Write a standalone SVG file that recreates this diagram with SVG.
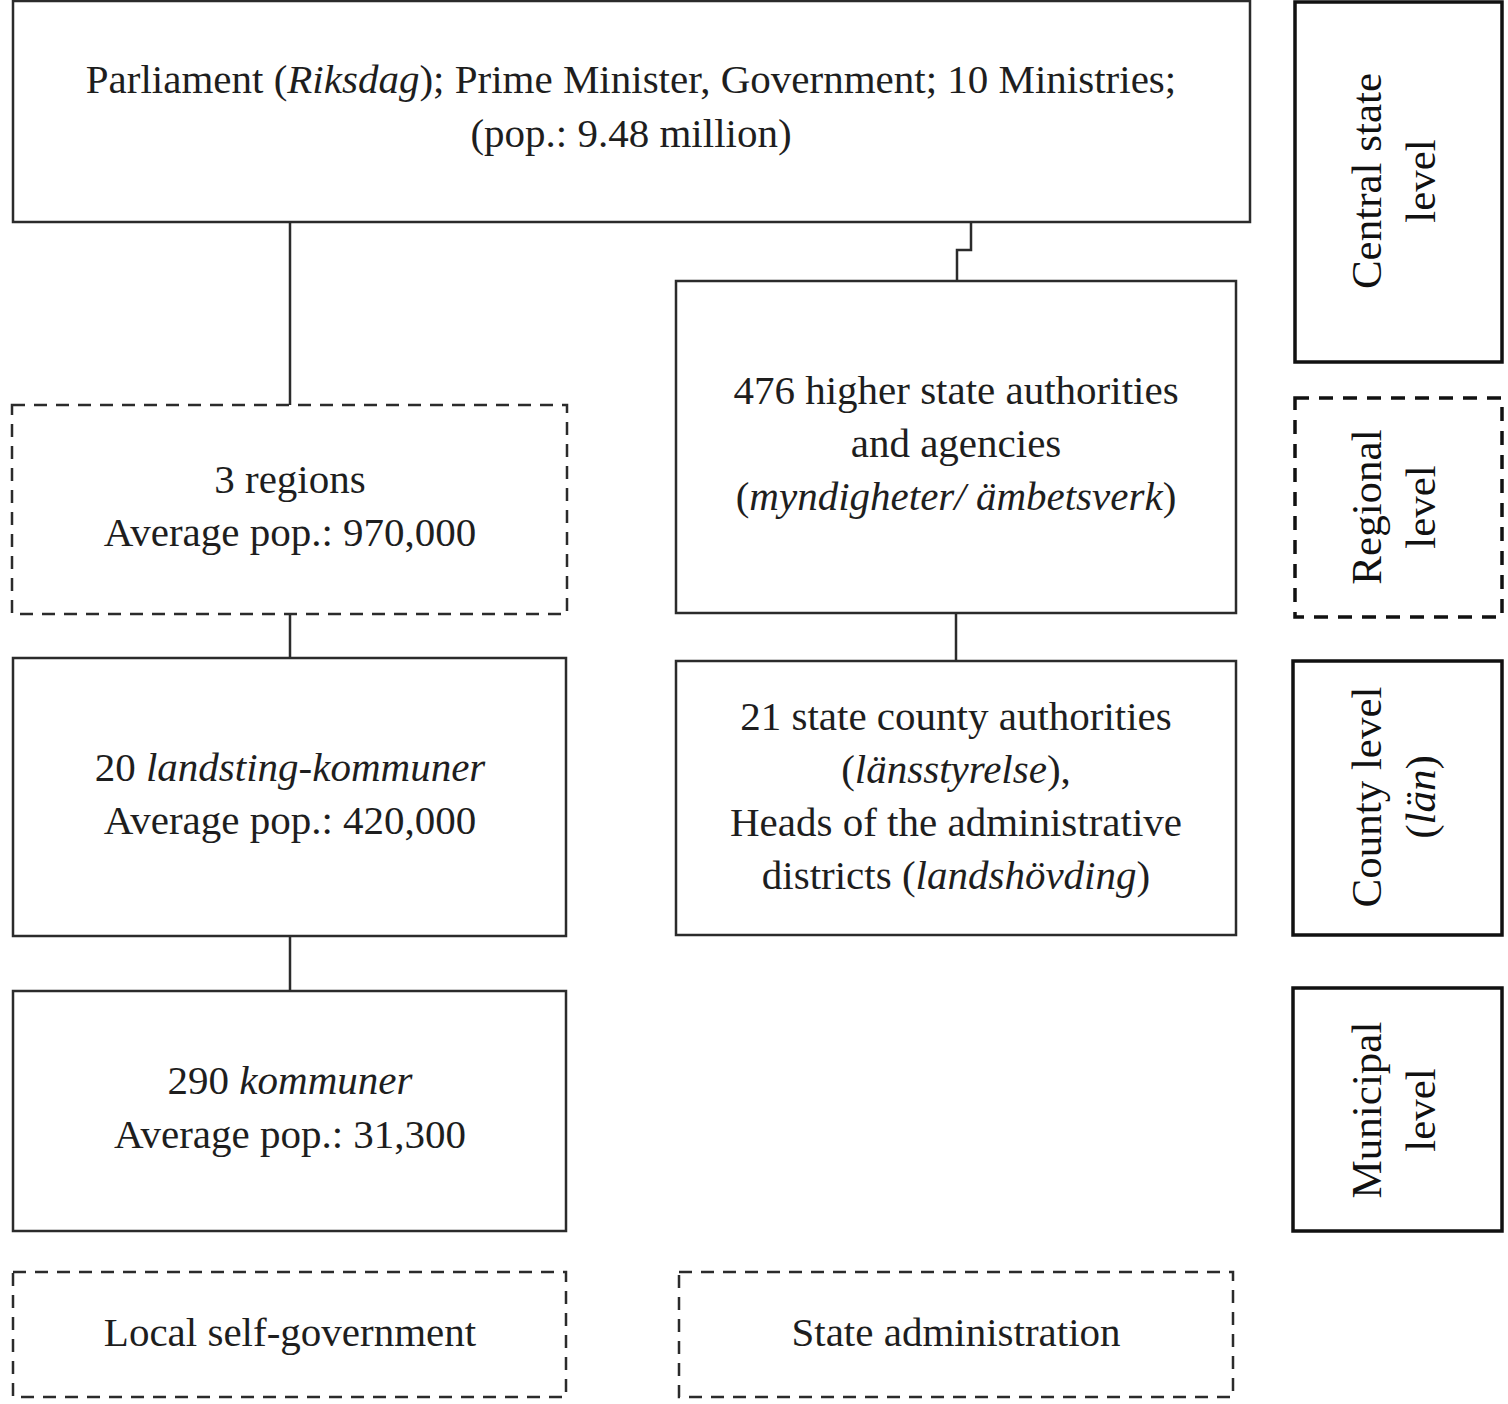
<svg xmlns="http://www.w3.org/2000/svg" width="1508" height="1404" viewBox="0 0 1508 1404">
<style>
.box{fill:#fff;stroke:#2b2b2b;stroke-width:2.5}
.dash{fill:#fff;stroke:#2b2b2b;stroke-width:2.5;stroke-dasharray:13 9}
.side{fill:#fff;stroke:#111;stroke-width:3.5}
.sidedash{fill:#fff;stroke:#111;stroke-width:3.5;stroke-dasharray:14 10}
.conn{fill:none;stroke:#2b2b2b;stroke-width:2.5}
text{font-family:"Liberation Serif","DejaVu Serif",serif;font-size:41px;fill:#1e1e1e;text-anchor:middle}
.side-t{font-size:43px;fill:#111}
.i{font-style:italic}
</style>
<rect width="1508" height="1404" fill="#fff"/>
<g id="connectors">
<path class="conn" d="M290 222V405"/>
<path class="conn" d="M971 222V250H957V281"/>
<path class="conn" d="M956 613V661"/>
<path class="conn" d="M290 614V658"/>
<path class="conn" d="M290 936V991"/>
</g>
<g id="central">
<rect class="box" x="13" y="1" width="1237" height="221"/>
<text x="631" y="93">Parliament (<tspan class="i">Riksdag</tspan>); Prime Minister, Government; 10 Ministries;</text>
<text x="631" y="147">(pop.: 9.48 million)</text>
</g>
<g id="regions">
<rect class="dash" x="12" y="405" width="555" height="209"/>
<text x="290" y="493">3 regions</text>
<text x="290" y="546">Average pop.: 970,000</text>
</g>
<g id="higher-authorities">
<rect class="box" x="676" y="281" width="560" height="332"/>
<text x="956" y="404">476 higher state authorities</text>
<text x="956" y="457">and agencies</text>
<text x="956" y="510">(<tspan class="i">myndigheter/ ämbetsverk</tspan>)</text>
</g>
<g id="landsting">
<rect class="box" x="13" y="658" width="553" height="278"/>
<text x="290" y="781">20 <tspan class="i">landsting-kommuner</tspan></text>
<text x="290" y="834">Average pop.: 420,000</text>
</g>
<g id="county-authorities">
<rect class="box" x="676" y="661" width="560" height="274"/>
<text x="956" y="730">21 state county authorities</text>
<text x="956" y="783">(<tspan class="i">länsstyrelse</tspan>),</text>
<text x="956" y="836">Heads of the administrative</text>
<text x="956" y="889">districts (<tspan class="i">landshövding</tspan>)</text>
</g>
<g id="kommuner">
<rect class="box" x="13" y="991" width="553" height="240"/>
<text x="290" y="1094">290 <tspan class="i">kommuner</tspan></text>
<text x="290" y="1148">Average pop.: 31,300</text>
</g>
<g id="local-self-government">
<rect class="dash" x="13" y="1272" width="553" height="125"/>
<text x="290" y="1346">Local self-government</text>
</g>
<g id="state-administration">
<rect class="dash" x="679" y="1272" width="554" height="125"/>
<text x="956" y="1346">State administration</text>
</g>
<g id="central-level">
<rect class="side" x="1295" y="2" width="207" height="360"/>
<text class="side-t" transform="translate(1381,181) rotate(-90)">Central state</text>
<text class="side-t" transform="translate(1435,181) rotate(-90)">level</text>
</g>
<g id="regional-level">
<rect class="sidedash" x="1295" y="398" width="207" height="219"/>
<text class="side-t" transform="translate(1381,507) rotate(-90)">Regional</text>
<text class="side-t" transform="translate(1435,507) rotate(-90)">level</text>
</g>
<g id="county-level">
<rect class="side" x="1293" y="661" width="209" height="274"/>
<text class="side-t" transform="translate(1381,797) rotate(-90)">County level</text>
<text class="side-t" transform="translate(1435,797) rotate(-90)">(<tspan class="i">län</tspan>)</text>
</g>
<g id="municipal-level">
<rect class="side" x="1293" y="988" width="209" height="243"/>
<text class="side-t" transform="translate(1381,1110) rotate(-90)">Municipal</text>
<text class="side-t" transform="translate(1435,1110) rotate(-90)">level</text>
</g>
</svg>
